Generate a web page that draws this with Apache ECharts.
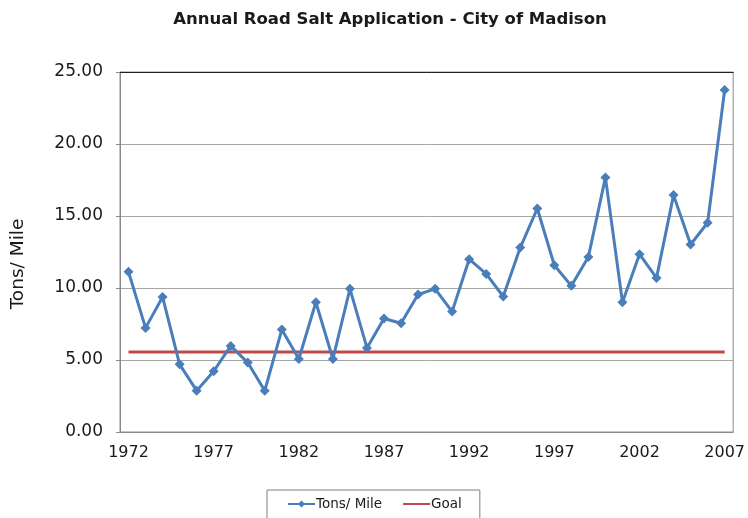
<!DOCTYPE html>
<html>
<head>
<meta charset="utf-8">
<script src="https://cdn.jsdelivr.net/npm/echarts@6/dist/echarts.min.js"></script>
<style>
  html, body { margin: 0; padding: 0; background: #fff; }
  #chart { width: 748px; height: 518px; }
</style>
</head>
<body>
<div id="chart"></div>
<script>
// years 1972..2007
const years = [];
for (let y = 1972; y <= 2007; y++) years.push(String(y));

const tonsPerMile = [
  11.12, 7.23, 9.38, 4.70, 2.87, 4.22, 5.98, 4.82, 2.87, 7.11,
  5.07, 9.01, 5.07, 9.94, 5.84, 7.88, 7.55, 9.55, 9.94, 8.36,
  12.00, 10.98, 9.41, 12.81, 15.52, 11.58, 10.15, 12.16, 17.68, 9.01,
  12.35, 10.70, 16.45, 13.02, 14.53, 23.75
];
const goalValue = 5.56;
const goal = years.map(() => goalValue);

const font = 'DejaVu Sans';

const chart = echarts.init(document.getElementById('chart'));
chart.setOption({
  animation: false,
  textStyle: { fontFamily: font },
  title: {
    text: 'Annual Road Salt Application - City of Madison',
    left: 385, top: 6, textAlign: 'center',
    textStyle: { fontSize: 16.5, fontWeight: 'bold', color: '#1a1a1a', fontFamily: font }
  },
  legend: {
    left: 267, top: 490,
    padding: [7, 18, 10, 20],
    itemGap: 20,
    itemWidth: 27, itemHeight: 9,
    borderColor: '#7f7f7f', borderWidth: 1,
    textStyle: { fontSize: 13.5, color: '#1a1a1a', padding: [0, 0, 0, -4] },
    data: ['Tons/ Mile', { name: 'Goal', itemStyle: { opacity: 0 } }]
  },
  grid: {
    left: 120, right: 14, top: 72, bottom: 86,
    show: true, borderColor: '#8a8a8a', borderWidth: 1
  },
  xAxis: [{
    type: 'category',
    data: years,
    boundaryGap: true,
    axisLine: { lineStyle: { color: '#8a8a8a' } },
    axisTick: { interval: 4, length: 5, lineStyle: { color: '#8a8a8a' } },
    axisLabel: { interval: 4, fontSize: 16, color: '#1a1a1a', margin: 13 }
  }, {
    // dark top border of the plot area
    type: 'category',
    position: 'top',
    data: years,
    axisLine: { show: true, lineStyle: { color: '#222', width: 1 } },
    axisTick: { show: false },
    axisLabel: { show: false }
  }],
  yAxis: {
    type: 'value',
    min: 0, max: 25, interval: 5,
    name: 'Tons/ Mile',
    nameLocation: 'middle',
    nameGap: 92,
    nameTextStyle: { fontSize: 18.5, color: '#1a1a1a', padding: [0, 24, 0, 0] },
    axisLine: { show: true, lineStyle: { color: '#8a8a8a' } },
    axisTick: { show: true, length: 4, lineStyle: { color: '#8a8a8a' } },
    axisLabel: {
      fontSize: 17, color: '#1a1a1a', margin: 17,
      formatter: v => v.toFixed(2)
    },
    splitLine: { lineStyle: { color: '#a6a6a6' } }
  },
  series: [
    {
      name: 'Tons/ Mile',
      type: 'line',
      data: tonsPerMile,
      symbol: 'diamond',
      symbolSize: 10,
      lineStyle: { color: '#4a7ebb', width: 3 },
      itemStyle: { color: '#4a7ebb' },
      z: 3
    },
    {
      name: 'Goal',
      type: 'line',
      data: goal,
      symbol: 'none',
      lineStyle: { color: '#be4b48', width: 3 },
      itemStyle: { color: '#be4b48' },
      z: 2
    }
  ]
});
</script>
</body>
</html>
